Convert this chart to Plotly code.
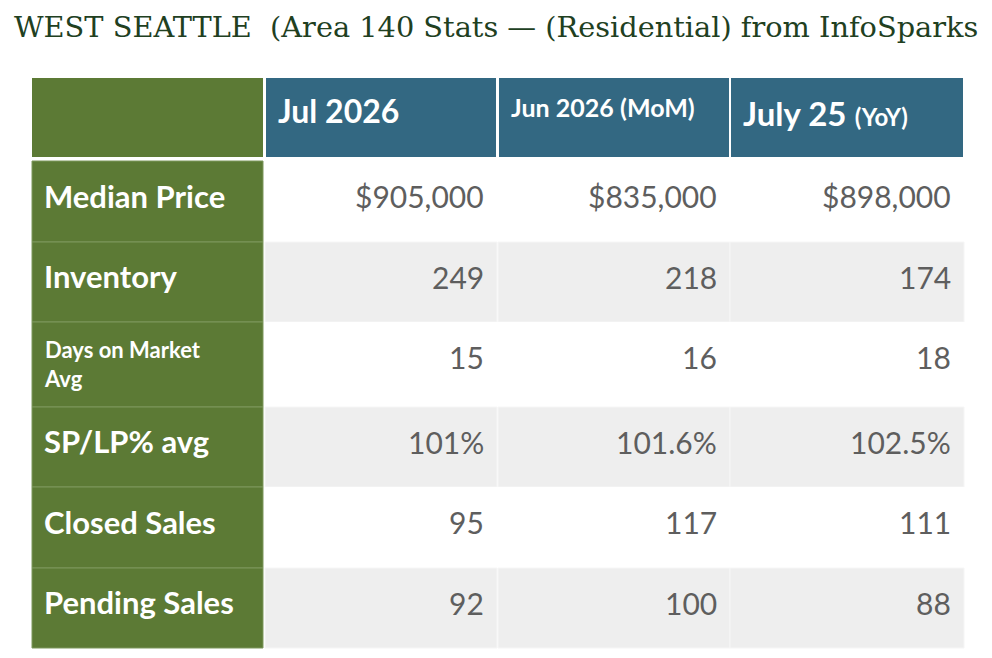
import plotly.graph_objects as go

# ---- data ----
title_text = "WEST SEATTLE  (Area 140 Stats — (Residential) from InfoSparks"
metrics = ["Median Price", "Inventory", "Days on Market<br>Avg", "SP/LP% avg",
           "Closed Sales", "Pending Sales"]
period_main = ["Jul 2026", "Jun 2026", "July 25"]
period_note = ["", "(MoM)", "(YoY)"]
jul_2026 = ["$905,000", "249", "15", "101%", "95", "92"]
jun_2026 = ["$835,000", "218", "16", "101.6%", "117", "100"]
jul_2025 = ["$898,000", "174", "18", "102.5%", "111", "88"]
columns = [jul_2026, jun_2026, jul_2025]

# ---- layout geometry (pixel space of the 992x658 page) ----
W, H = 992, 658
OFF = 8  # page body margin compensation
label_x0, label_x1 = 32, 263
col_edges = [(266, 496), (499, 729), (731, 963)]
header_y = (78, 157)
row_edges = [161, 242, 322, 407, 487, 568, 648]

GREEN = "#5c7a35"
GREEN_LINE = "#7d975c"
BLUE = "#336882"
GREY = "#eeeeee"
VAL_COLOR = "#5e5e5e"
TITLE_COLOR = "#21401f"

shapes = []
ann = []

# label column header
shapes.append(dict(type="rect", xref="x", yref="y", x0=label_x0, x1=label_x1,
                   y0=header_y[0], y1=header_y[1], fillcolor=GREEN, line_width=0, layer="below"))
# period headers
head_sizes = [(32, 0), (25, 25), (33, 24)]
head_y = [110, 107, 113]
for i, (x0, x1) in enumerate(col_edges):
    shapes.append(dict(type="rect", xref="x", yref="y", x0=x0, x1=x1,
                       y0=header_y[0], y1=header_y[1], fillcolor=BLUE, line_width=0, layer="below"))
    main_size, note_size = head_sizes[i]
    txt = f"<b>{period_main[i]}</b>"
    if period_note[i]:
        txt += f" <b><span style='font-size:{note_size}px'>{period_note[i]}</span></b>"
    ann.append(dict(x=x0 + 10, y=head_y[i], xref="x", yref="y",
                    text=txt, showarrow=False, xanchor="left", yanchor="middle",
                    font=dict(family="Lato", size=main_size, color="white")))

# body rows
for r, label in enumerate(metrics):
    y0, y1 = row_edges[r], row_edges[r + 1]
    shapes.append(dict(type="rect", xref="x", yref="y", x0=label_x0, x1=label_x1,
                       y0=y0, y1=y1, fillcolor=GREEN, line=dict(color=GREEN_LINE, width=1),
                       layer="below"))
    fill = "white" if r % 2 == 0 else GREY
    for (x0, x1) in col_edges:
        shapes.append(dict(type="rect", xref="x", yref="y", x0=x0 - 1, x1=x1 + 1,
                           y0=y0 + (1 if r == 0 else 0), y1=y1, fillcolor=fill,
                           line=dict(color="#f6f6f6", width=1) if fill == GREY else dict(width=0),
                           layer="below"))
    small = "<br>" in label
    ann.append(dict(x=42, y=(y0 + y1) / 2 + (-1 if small else -6), xref="x", yref="y",
                    text=f"<b>{label}</b>", showarrow=False, xanchor="left", yanchor="middle",
                    align="left",
                    font=dict(family="Lato", size=22 if small else 31, color="white")))
    for c, vals in enumerate(columns):
        ann.append(dict(x=col_edges[c][1] - 10, y=y0 + 35, xref="x", yref="y",
                        text=vals[r], showarrow=False, xanchor="right", yanchor="middle",
                        font=dict(family="Lato", size=30, color=VAL_COLOR)))

# title
ann.append(dict(x=12, y=27, xref="x", yref="y", text=title_text, showarrow=False,
                xanchor="left", yanchor="middle",
                font=dict(family="DejaVu Serif", size=28.8, color=TITLE_COLOR)))

fig = go.Figure()
fig.add_trace(go.Scatter(x=[OFF, W], y=[OFF, H], mode="markers", marker=dict(opacity=0),
                         hoverinfo="skip", showlegend=False))
fig.update_layout(
    width=W, height=H, margin=dict(l=0, r=0, t=0, b=0),
    paper_bgcolor="white", plot_bgcolor="white",
    xaxis=dict(range=[OFF, W + OFF], visible=False, fixedrange=True),
    yaxis=dict(range=[H + OFF, OFF], visible=False, fixedrange=True),
    shapes=shapes, annotations=ann, showlegend=False,
)
fig.write_html("out.html")
